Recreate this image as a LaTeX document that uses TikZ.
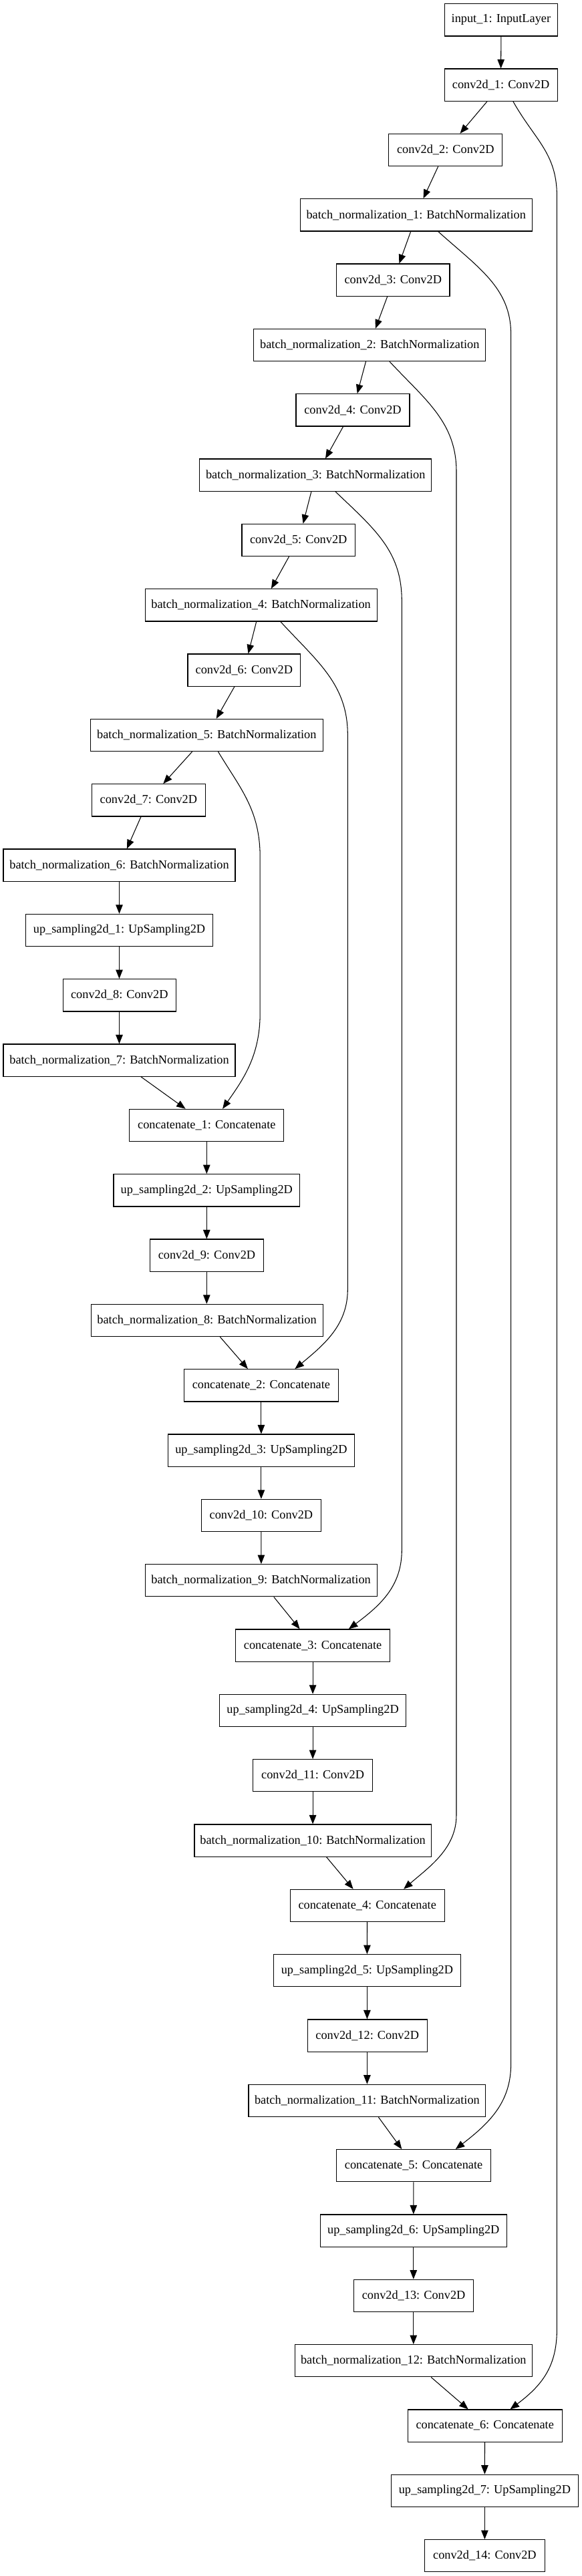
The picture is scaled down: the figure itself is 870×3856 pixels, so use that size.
\documentclass[tikz,border=0pt]{standalone}
\usepackage{fontspec}
\setmainfont{Liberation Serif}
\usetikzlibrary{arrows.meta}
\begin{document}
\begin{tikzpicture}[x=1pt,y=-1pt,
  box/.style={draw=black, line width=1.1pt, rectangle, minimum height=48.3pt, inner sep=0pt, align=center, font=\fontsize{18.3}{22}\selectfont},
  arr/.style={draw=black, line width=1.05pt, -{Triangle[length=13.5pt,width=10.5pt]}},
  lane/.style={draw=black, line width=1.05pt}]
\useasboundingbox[fill=white] (0,0) rectangle (870,3856);
% nodes
\node[box, minimum width=168.3pt] (n0) at (749.9,29.85) {input\_1: InputLayer};
\node[box, minimum width=169pt] (n1) at (749.6,127.18) {conv2d\_1: Conv2D};
\node[box, minimum width=170pt] (n2) at (666.8,224.51) {conv2d\_2: Conv2D};
\node[box, minimum width=347pt] (n3) at (622.7,321.84) {batch\_normalization\_1: BatchNormalization};
\node[box, minimum width=169.4pt] (n4) at (588.3,419.17) {conv2d\_3: Conv2D};
\node[box, minimum width=347pt] (n5) at (553.3,516.5) {batch\_normalization\_2: BatchNormalization};
\node[box, minimum width=170pt] (n6) at (528.0,613.83) {conv2d\_4: Conv2D};
\node[box, minimum width=347pt] (n7) at (472.2,711.16) {batch\_normalization\_3: BatchNormalization};
\node[box, minimum width=169.4pt] (n8) at (446.7,808.49) {conv2d\_5: Conv2D};
\node[box, minimum width=347pt] (n9) at (390.6,905.82) {batch\_normalization\_4: BatchNormalization};
\node[box, minimum width=168.8pt] (n10) at (365.4,1003.15) {conv2d\_6: Conv2D};
\node[box, minimum width=347.6pt] (n11) at (309.3,1100.48) {batch\_normalization\_5: BatchNormalization};
\node[box, minimum width=169.4pt] (n12) at (222.4,1197.81) {conv2d\_7: Conv2D};
\node[box, minimum width=347pt] (n13) at (178.5,1295.14) {batch\_normalization\_6: BatchNormalization};
\node[box, minimum width=279.3pt] (n14) at (178.5,1392.47) {up\_sampling2d\_1: UpSampling2D};
\node[box, minimum width=168.8pt] (n15) at (178.8,1489.8) {conv2d\_8: Conv2D};
\node[box, minimum width=347pt] (n16) at (178.5,1587.13) {batch\_normalization\_7: BatchNormalization};
\node[box, minimum width=231pt] (n17) at (309.3,1684.46) {concatenate\_1: Concatenate};
\node[box, minimum width=278.7pt] (n18) at (309.3,1781.79) {up\_sampling2d\_2: UpSampling2D};
\node[box, minimum width=169.3pt] (n19) at (309.5,1879.12) {conv2d\_9: Conv2D};
\node[box, minimum width=347pt] (n20) at (309.6,1976.45) {batch\_normalization\_8: BatchNormalization};
\node[box, minimum width=231pt] (n21) at (390.9,2073.78) {concatenate\_2: Concatenate};
\node[box, minimum width=278.8pt] (n22) at (390.9,2171.11) {up\_sampling2d\_3: UpSampling2D};
\node[box, minimum width=178.8pt] (n23) at (390.9,2268.44) {conv2d\_10: Conv2D};
\node[box, minimum width=347pt] (n24) at (390.6,2365.77) {batch\_normalization\_9: BatchNormalization};
\node[box, minimum width=231pt] (n25) at (468.1,2463.1) {concatenate\_3: Concatenate};
\node[box, minimum width=278.7pt] (n26) at (468.1,2560.43) {up\_sampling2d\_4: UpSampling2D};
\node[box, minimum width=178.8pt] (n27) at (468.1,2657.76) {conv2d\_11: Conv2D};
\node[box, minimum width=354.3pt] (n28) at (468.1,2755.09) {batch\_normalization\_10: BatchNormalization};
\node[box, minimum width=231pt] (n29) at (549.7,2852.42) {concatenate\_4: Concatenate};
\node[box, minimum width=279.3pt] (n30) at (549.4,2949.75) {up\_sampling2d\_5: UpSampling2D};
\node[box, minimum width=178.8pt] (n31) at (549.7,3047.08) {conv2d\_12: Conv2D};
\node[box, minimum width=354.8pt] (n32) at (549.4,3144.41) {batch\_normalization\_11: BatchNormalization};
\node[box, minimum width=231pt] (n33) at (619.1,3241.74) {concatenate\_5: Concatenate};
\node[box, minimum width=279.3pt] (n34) at (618.8,3339.07) {up\_sampling2d\_6: UpSampling2D};
\node[box, minimum width=178.8pt] (n35) at (619.1,3436.4) {conv2d\_13: Conv2D};
\node[box, minimum width=354.8pt] (n36) at (618.8,3533.73) {batch\_normalization\_12: BatchNormalization};
\node[box, minimum width=231pt] (n37) at (725.7,3631.06) {concatenate\_6: Concatenate};
\node[box, minimum width=279.3pt] (n38) at (725.4,3728.39) {up\_sampling2d\_7: UpSampling2D};
\node[box, minimum width=179.4pt] (n39) at (725.4,3825.72) {conv2d\_14: Conv2D};
% main chain edges
\draw[arr] (n0.south) -- (n1.north);
\draw[arr] ([xshift=-20.6]n1.south) -- ([xshift=21.7]n2.north);
\draw[arr] ([xshift=-11.1]n2.south) -- ([xshift=10.8]n3.north);
\draw[arr] ([xshift=-8]n3.south) -- ([xshift=9.1]n4.north);
\draw[arr] ([xshift=-8.6]n4.south) -- ([xshift=8.6]n5.north);
\draw[arr] ([xshift=-5.8]n5.south) -- ([xshift=6.7]n6.north);
\draw[arr] ([xshift=-14.4]n6.south) -- ([xshift=14.8]n7.north);
\draw[arr] ([xshift=-6.3]n7.south) -- ([xshift=6.9]n8.north);
\draw[arr] ([xshift=-14.2]n8.south) -- ([xshift=15.3]n9.north);
\draw[arr] ([xshift=-6.9]n9.south) -- ([xshift=6.1]n10.north);
\draw[arr] ([xshift=-14.5]n10.south) -- ([xshift=14.4]n11.north);
\draw[arr] ([xshift=-21.7]n11.south) -- ([xshift=21.9]n12.north);
\draw[arr] ([xshift=-11.4]n12.south) -- ([xshift=11.4]n13.north);
\draw[arr] (n13.south) -- (n14.north);
\draw[arr] (n14.south) -- ([xshift=-0.3]n15.north);
\draw[arr] ([xshift=-0.3]n15.south) -- (n16.north);
\draw[arr] ([xshift=32.5]n16.south) -- ([xshift=-31.7]n17.north);
\draw[arr] (n17.south) -- (n18.north);
\draw[arr] (n18.south) -- ([xshift=-0.2]n19.north);
\draw[arr] ([xshift=-0.2]n19.south) -- ([xshift=-0.3]n20.north);
\draw[arr] ([xshift=19.7]n20.south) -- ([xshift=-20]n21.north);
\draw[arr] (n21.south) -- (n22.north);
\draw[arr] (n22.south) -- (n23.north);
\draw[arr] (n23.south) -- ([xshift=0.3]n24.north);
\draw[arr] ([xshift=19.2]n24.south) -- ([xshift=-19.5]n25.north);
\draw[arr] (n25.south) -- (n26.north);
\draw[arr] (n26.south) -- (n27.north);
\draw[arr] (n27.south) -- (n28.north);
\draw[arr] ([xshift=20.5]n28.south) -- ([xshift=-21.1]n29.north);
\draw[arr] ([xshift=-0.2]n29.south) -- (n30.north);
\draw[arr] (n30.south) -- ([xshift=-0.3]n31.north);
\draw[arr] ([xshift=-0.3]n31.south) -- (n32.north);
\draw[arr] ([xshift=17]n32.south) -- ([xshift=-17.8]n33.north);
\draw[arr] ([xshift=-0.2]n33.south) -- (n34.north);
\draw[arr] (n34.south) -- ([xshift=-0.3]n35.north);
\draw[arr] ([xshift=-0.3]n35.south) -- (n36.north);
\draw[arr] ([xshift=26.4]n36.south) -- ([xshift=-25]n37.north);
\draw[arr] ([xshift=-0.2]n37.south) -- (n38.north);
\draw[arr] (n38.south) -- (n39.north);
% skip-connection lanes
\coordinate (a1) at (833.4,293);  \coordinate (a2) at (833.4,3487);
\coordinate (b1) at (764.6,500);  \coordinate (b2) at (764.6,3090);
\coordinate (c1) at (683.0,706);  \coordinate (c2) at (683.0,2717);
\coordinate (d1) at (601.3,900);  \coordinate (d2) at (601.3,2320);
\coordinate (e1) at (520.3,1100); \coordinate (e2) at (520.3,1930);
\coordinate (f1) at (389.2,1283); \coordinate (f2) at (389.2,1517);
\draw[arr] ([xshift=18.3]n1.south) .. controls +(32,57) and +(0,-64) .. (a1) -- (a2)
  .. controls +(0,55) and +(48,-36) .. ([xshift=37.8]n37.north);
\draw[arr] ([xshift=33]n3.south) .. controls +(60,54) and +(0,-69) .. (b1) -- (b2)
  .. controls +(0,58) and +(49,-38) .. ([xshift=62.7]n33.north);
\draw[arr] ([xshift=29.7]n5.south) .. controls +(54,58) and +(0,-74) .. (c1) -- (c2)
  .. controls +(0,50) and +(38,-33) .. ([xshift=54.4]n29.north);
\draw[arr] ([xshift=29.7]n7.south) .. controls +(61,58) and +(0,-74) .. (d1) -- (d2)
  .. controls +(0,54) and +(48,-36) .. ([xshift=53.8]n25.north);
\draw[arr] ([xshift=29.2]n9.south) .. controls +(55,60) and +(0,-76) .. (e1) -- (e2)
  .. controls +(0,54) and +(43,-36) .. ([xshift=50.5]n21.north);
\draw[arr] ([xshift=17.2]n11.south) .. controls +(33,55) and +(0,-71) .. (f1) -- (f2)
  .. controls +(0,64) and +(30,-43) .. ([xshift=23.8]n17.north);
\end{tikzpicture}
\end{document}
